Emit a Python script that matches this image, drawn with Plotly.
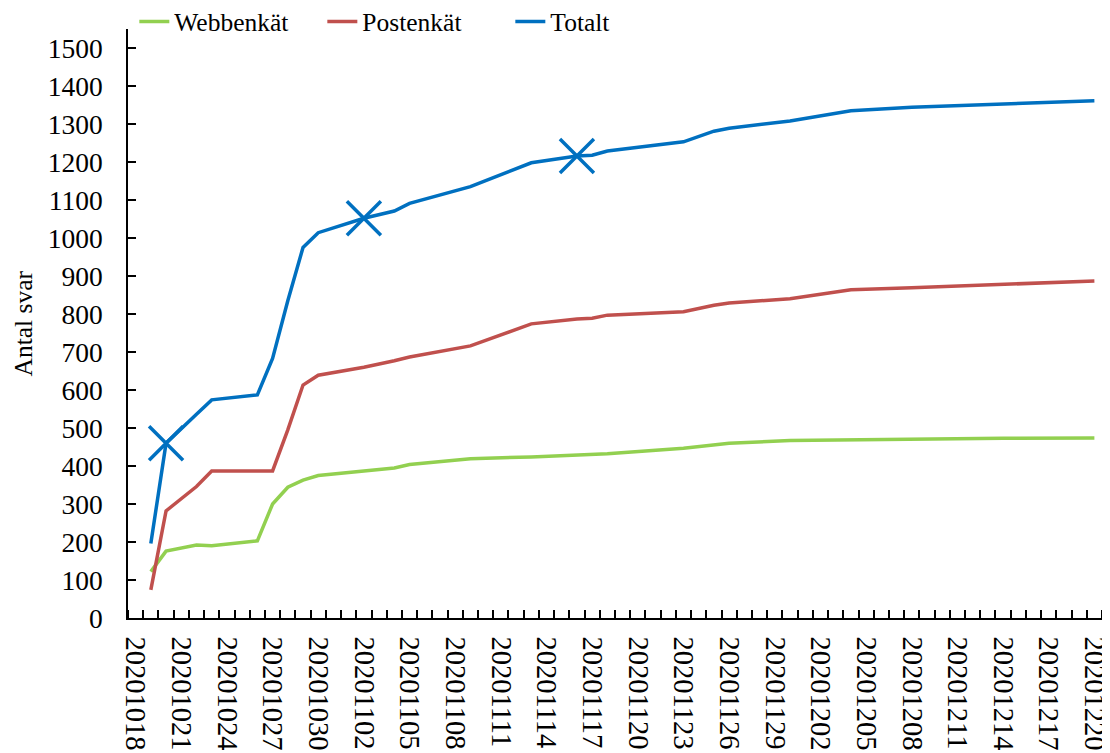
import plotly.graph_objects as go
import pandas as pd

# ---- data ----
dates = ["2020-10-19", "2020-10-20", "2020-10-22", "2020-10-23", "2020-10-26",
         "2020-10-27", "2020-10-28", "2020-10-29", "2020-10-30", "2020-11-02",
         "2020-11-04", "2020-11-05", "2020-11-09", "2020-11-13", "2020-11-16",
         "2020-11-17", "2020-11-18", "2020-11-23", "2020-11-25", "2020-11-26",
         "2020-11-30", "2020-12-04", "2020-12-08", "2020-12-14", "2020-12-20"]
webb = [122, 176, 192, 190, 203, 300, 344, 363, 375, 387, 395, 404, 419, 424, 429,
        429, 432, 447, 457, 460, 467, 469, 471, 473, 474]
post = [74, 282, 346, 387, 387, 387, 495, 613, 639, 660, 677, 687, 716, 774, 787,
        789, 797, 806, 823, 829, 840, 864, 869, 878, 887]
totalt = [196, 460, 536, 574, 587, 683, 835, 975, 1014, 1052, 1071, 1091, 1135, 1198, 1216,
          1218, 1229, 1253, 1281, 1289, 1308, 1335, 1344, 1353, 1361]
marker_dates = ["2020-10-20", "2020-11-02", "2020-11-16"]
tick_labels = ["20201018", "20201021", "20201024", "20201027", "20201030", "20201102",
               "20201105", "20201108", "20201111", "20201114", "20201117", "20201120",
               "20201123", "20201126", "20201129", "20201202", "20201205", "20201208",
               "20201211", "20201214", "20201217", "20201220"]
y_ticks = list(range(0, 1501, 100))

tick_vals = [pd.to_datetime(t, format="%Y%m%d").strftime("%Y-%m-%d") for t in tick_labels]
tot_lookup = dict(zip(dates, totalt))
marker_y = [tot_lookup[d] for d in marker_dates]

GREEN = "#92D050"
RED = "#C0504D"
BLUE = "#0070C0"
FONT = "Liberation Serif"
FS = 27.5
XFS = 28.5
LFS = 25.5

fig = go.Figure()
fig.add_trace(go.Scatter(x=dates, y=webb, mode="lines", name="Webbenkät",
                         line=dict(color=GREEN, width=3.5)))
fig.add_trace(go.Scatter(x=dates, y=post, mode="lines", name="Postenkät",
                         line=dict(color=RED, width=3.5)))
fig.add_trace(go.Scatter(x=dates, y=totalt, mode="lines", name="Totalt",
                         line=dict(color=BLUE, width=3.5)))
fig.add_trace(go.Scatter(x=marker_dates, y=marker_y, mode="markers", showlegend=False,
                         marker=dict(symbol="x-thin", size=34, color=BLUE,
                                     line=dict(color=BLUE, width=3.5))))

fig.update_layout(
    width=1102, height=745,
    template="none",
    paper_bgcolor="white", plot_bgcolor="white",
    margin=dict(l=120, r=8, t=21, b=135, autoexpand=False),
    font=dict(family=FONT, size=FS, color="black"),
    showlegend=True,
    legend=dict(orientation="h", x=0.0065, xanchor="left", y=1.012, yanchor="middle",
                font=dict(family=FONT, size=LFS, color="black"),
                bgcolor="rgba(0,0,0,0)", entrywidth=143, entrywidthmode="pixels"),
    xaxis=dict(
        type="date",
        range=["2020-10-17 12:00", "2020-12-20 12:00"],
        tickmode="array", tickvals=tick_vals, ticktext=tick_labels,
        tickangle=90, ticks="", showgrid=False, zeroline=False,
        showline=True, linecolor="black", linewidth=1.5,
        tickfont=dict(family=FONT, size=XFS, color="black"),
        ticklabelstandoff=11,
        ticklabeloverflow="allow",
        automargin=False,
        minor=dict(ticks="inside", ticklen=8, tickwidth=1.5, tickcolor="black",
                   tick0="2020-10-17 12:00", dtick=86400000, showgrid=False),
    ),
    yaxis=dict(
        range=[0, 1550], tickmode="array", tickvals=y_ticks,
        ticks="inside", ticklen=8, tickwidth=1.5, tickcolor="black",
        showgrid=False, zeroline=False,
        showline=True, linecolor="black", linewidth=1.5,
        tickfont=dict(family=FONT, size=FS, color="black"),
        ticklabelstandoff=18,
        automargin=False,
    ),
    annotations=[dict(text="Antal svar", xref="paper", yref="paper",
                      x=-0.1068, y=0.5, xanchor="center", yanchor="middle",
                      textangle=-90, showarrow=False,
                      font=dict(family=FONT, size=LFS, color="black"))],
)

fig.write_html("out.html")
